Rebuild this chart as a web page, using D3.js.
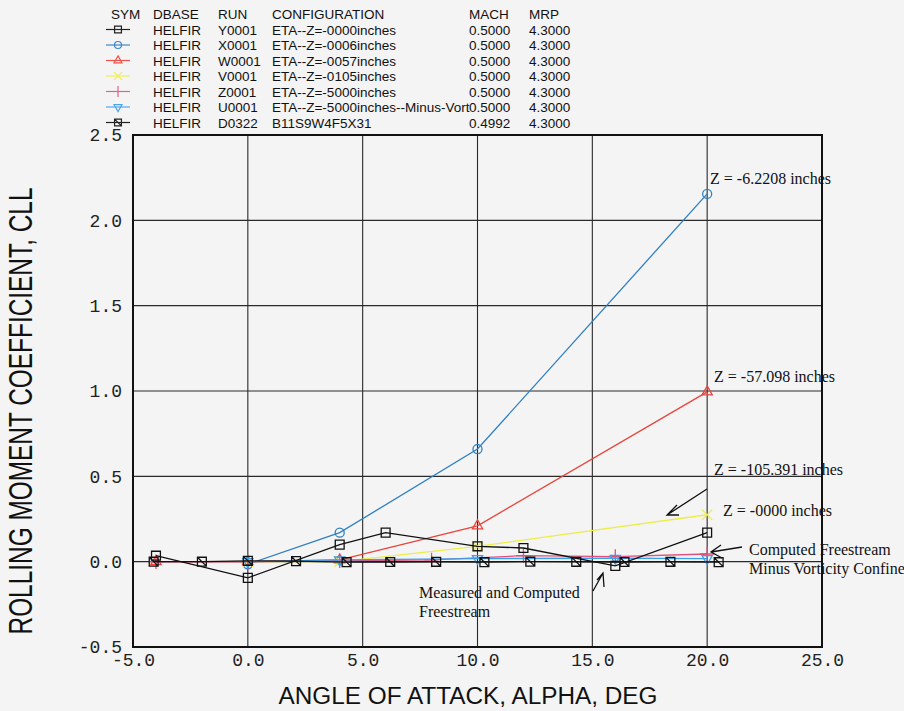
<!DOCTYPE html>
<html>
<head>
<meta charset="utf-8">
<script src="https://cdn.jsdelivr.net/npm/d3@7"></script>
<style>
  html, body { margin: 0; padding: 0; background: #f4f4f4; }
  svg { display: block; }
</style>
</head>
<body>
<div id="chart"></div>
<script>
// Data (alpha in deg, CLL).
const alphaY0001 = [-4, 0, 4, 6, 10, 12, 16, 20];
const cllY0001 = [0.035, -0.095, 0.10, 0.17, 0.09, 0.08, -0.025, 0.17];
const alphaX0001 = [0, 4, 10, 20];
const cllX0001 = [-0.015, 0.17, 0.66, 2.155];
const alphaW0001 = [-4, 0, 4, 10, 20];
const cllW0001 = [0.0, 0.0, 0.01, 0.21, 0.995];
const alphaV0001 = [0, 4, 10, 20];
const cllV0001 = [0.0, 0.0, 0.09, 0.275];
const alphaZ0001 = [-4, 0, 4, 8, 12, 16, 20];
const cllZ0001 = [0.0, 0.0, 0.005, 0.01, 0.035, 0.03, 0.045];
const alphaU0001 = [0, 4, 10, 16, 20];
const cllU0001 = [0.0, 0.01, 0.018, 0.02, 0.018];
const alphaD0322 = [-4.1, -2.0, 0.0, 2.1, 4.3, 6.2, 8.2, 10.3, 12.3, 14.3, 16.4, 18.4, 20.5];
const cllD0322 = [0.0, 0.0, 0.005, 0.003, -0.003, -0.002, -0.001, -0.003, 0.0, -0.001, -0.002, -0.001, -0.003];

const legendHeader = ["SYM", "DBASE", "RUN", "CONFIGURATION", "MACH", "MRP"];
const runs = ["Y0001", "X0001", "W0001", "V0001", "Z0001", "U0001", "D0322"];
const dbases = ["HELFIR", "HELFIR", "HELFIR", "HELFIR", "HELFIR", "HELFIR", "HELFIR"];
const configs = ["ETA--Z=-0000inches", "ETA--Z=-0006inches", "ETA--Z=-0057inches", "ETA--Z=-0105inches",
  "ETA--Z=-5000inches", "ETA--Z=-5000inches--Minus-Vort", "B11S9W4F5X31"];
const machs = ["0.5000", "0.5000", "0.5000", "0.5000", "0.5000", "0.5000", "0.4992"];
const mrps = ["4.3000", "4.3000", "4.3000", "4.3000", "4.3000", "4.3000", "4.3000"];

const xTicks = [-5, 0, 5, 10, 15, 20, 25];
const yTicks = [-0.5, 0, 0.5, 1.0, 1.5, 2.0, 2.5];

const width = 904;
const height = 711;
const plot = { left: 133, right: 822, top: 135, bottom: 647 };

// Square with a diagonal, for the measured data.
const symbolSquareDiag = {
  draw(context, size) {
    const r = Math.sqrt(size) * 0.4431;
    context.rect(-r, -r, 2 * r, 2 * r);
    context.moveTo(-r, -r);
    context.lineTo(r, r);
  }
};
const symbolTriangleDown = {
  draw(context, size) {
    const s = Math.sqrt(size) * 0.6824;
    const t = s / 2, u = s * Math.sqrt(3) / 2;
    context.moveTo(0, s);
    context.lineTo(u, -t);
    context.lineTo(-u, -t);
    context.closePath();
  }
};

const series = [
  { alpha: alphaY0001, cll: cllY0001, color: "#111", legendColor: "#222", type: d3.symbolSquare2, size: 100 },
  { alpha: alphaX0001, cll: cllX0001, color: "#2f7fc1", legendColor: "#3a86c8", type: d3.symbolCircle, size: 64 },
  { alpha: alphaW0001, cll: cllW0001, color: "#e8453c", legendColor: "#ee5048", type: d3.symbolTriangle2, size: 75 },
  { alpha: alphaV0001, cll: cllV0001, color: "#eded4a", legendColor: "#eeee55", type: d3.symbolTimes, size: 70 },
  { alpha: alphaZ0001, cll: cllZ0001, color: "#e0507c", legendColor: "#e86088", type: d3.symbolPlus, size: 70 },
  { alpha: alphaU0001, cll: cllU0001, color: "#3aa0e8", legendColor: "#4aa8ea", type: symbolTriangleDown, size: 75 },
  { alpha: alphaD0322, cll: cllD0322, color: "#111", legendColor: "#222", type: symbolSquareDiag, size: 100 }
];

const svg = d3.select("#chart")
  .append("svg")
  .attr("width", width)
  .attr("height", height);

const x = d3.scaleLinear().domain([-5, 25]).range([plot.left, plot.right]);
const y = d3.scaleLinear().domain([-0.5, 2.5]).range([plot.bottom, plot.top]);

// Grid.
const grid = svg.append("g").attr("stroke", "#2a2a2a").attr("stroke-width", 1.1);
grid.selectAll(".vx")
  .data(xTicks.slice(1, -1))
  .join("line")
  .attr("x1", d => x(d)).attr("x2", d => x(d))
  .attr("y1", plot.top).attr("y2", plot.bottom);
grid.selectAll(".hy")
  .data(yTicks.slice(1, -1))
  .join("line")
  .attr("x1", plot.left).attr("x2", plot.right)
  .attr("y1", d => y(d)).attr("y2", d => y(d));

// Axes (labels only, frame drawn separately).
const monoFont = "'Liberation Mono', 'DejaVu Sans Mono', monospace";
const xAxis = svg.append("g")
  .attr("transform", `translate(0,${plot.bottom})`)
  .call(d3.axisBottom(x).tickValues(xTicks).tickSize(0).tickPadding(6).tickFormat(d => d.toFixed(1)));
const yAxis = svg.append("g")
  .attr("transform", `translate(${plot.left},0)`)
  .call(d3.axisLeft(y).tickValues(yTicks).tickSize(0).tickPadding(11).tickFormat(d => d.toFixed(1)));
[xAxis, yAxis].forEach(a => {
  a.select(".domain").remove();
  a.selectAll("text")
    .attr("fill", "#222")
    .style("font-family", monoFont)
    .style("font-size", "18px");
});

svg.append("rect")
  .attr("x", plot.left).attr("y", plot.top)
  .attr("width", plot.right - plot.left)
  .attr("height", plot.bottom - plot.top)
  .attr("fill", "none")
  .attr("stroke", "#111")
  .attr("stroke-width", 2);

// Data.
const line = d3.line().x(d => x(d[0])).y(d => y(d[1]));
const drawOrder = [1, 2, 3, 4, 5, 0, 6];
drawOrder.forEach(i => {
  const s = series[i];
  const pts = s.alpha.map((a, k) => [a, s.cll[k]]);
  const g = svg.append("g");
  g.append("path")
    .attr("d", line(pts))
    .attr("fill", "none")
    .attr("stroke", s.color)
    .attr("stroke-width", 1.3);
  g.selectAll("path.m")
    .data(pts)
    .join("path")
    .attr("class", "m")
    .attr("transform", d => `translate(${x(d[0])},${y(d[1])})`)
    .attr("d", d3.symbol(s.type, s.size))
    .attr("fill", "none")
    .attr("stroke", s.color)
    .attr("stroke-width", 1.3);
});

// Legend.
const legendFont = "'Liberation Sans', Arial, sans-serif";
const cols = [111, 153, 218, 272, 469, 529];
const legend = svg.append("g")
  .style("font-family", legendFont)
  .style("font-size", "13.5px")
  .attr("fill", "#111");
legend.selectAll("text.h")
  .data(legendHeader)
  .join("text")
  .attr("class", "h")
  .attr("x", (d, i) => cols[i])
  .attr("y", 19)
  .text(d => d);
runs.forEach((run, i) => {
  const cy = 29.5 + 15.5 * i;
  const s = series[i];
  legend.append("line")
    .attr("x1", 106).attr("x2", 130)
    .attr("y1", cy).attr("y2", cy)
    .attr("stroke", s.legendColor)
    .attr("stroke-width", 1.2);
  legend.append("path")
    .attr("transform", `translate(118,${cy})`)
    .attr("d", d3.symbol(s.type, s.size * 0.6))
    .attr("fill", "none")
    .attr("stroke", s.legendColor)
    .attr("stroke-width", 1.2);
  const row = [dbases[i], run, configs[i], machs[i], mrps[i]];
  row.forEach((t, j) => {
    legend.append("text")
      .attr("x", cols[j + 1])
      .attr("y", cy + 5)
      .text(t);
  });
});

// Axis titles.
svg.append("text")
  .attr("x", 468).attr("y", 704)
  .attr("text-anchor", "middle")
  .attr("textLength", 379)
  .attr("lengthAdjust", "spacingAndGlyphs")
  .style("font-family", legendFont)
  .style("font-size", "23px")
  .attr("fill", "#111")
  .text("ANGLE OF ATTACK, ALPHA, DEG");
svg.append("text")
  .attr("transform", "translate(20,411) rotate(-90) scale(1,1.45)")
  .attr("text-anchor", "middle")
  .attr("dy", "0.36em")
  .attr("textLength", 447)
  .attr("lengthAdjust", "spacingAndGlyphs")
  .style("font-family", legendFont)
  .style("font-size", "23px")
  .attr("fill", "#111")
  .text("ROLLING MOMENT COEFFICIENT, CLL");

// Annotations.
const notes = [
  { x: 710, y: 184, t: "Z = -6.2208 inches" },
  { x: 714, y: 382, t: "Z = -57.098 inches" },
  { x: 714, y: 475, t: "Z = -105.391 inches" },
  { x: 723, y: 516, t: "Z = -0000 inches" },
  { x: 749, y: 555, t: "Computed Freestream" },
  { x: 749, y: 574, t: "Minus Vorticity Confine" },
  { x: 419, y: 598, t: "Measured and Computed" },
  { x: 419, y: 617, t: "Freestream" }
];
svg.append("g")
  .style("font-family", "'Liberation Serif', 'Times New Roman', serif")
  .style("font-size", "16px")
  .attr("fill", "#111")
  .selectAll("text")
  .data(notes)
  .join("text")
  .attr("x", d => d.x)
  .attr("y", d => d.y)
  .text(d => d.t);

const arrows = [
  "M707,489 L667,515 M677,505 L667,515 L679,515",
  "M742,547 L711,552 M721,545 L711,552 L722,558",
  "M593,591 L603,573 M597,580 L603,573 L604,587"
];
svg.append("g")
  .selectAll("path")
  .data(arrows)
  .join("path")
  .attr("d", d => d)
  .attr("fill", "none")
  .attr("stroke", "#111")
  .attr("stroke-width", 1.3);
</script>
</body>
</html>
